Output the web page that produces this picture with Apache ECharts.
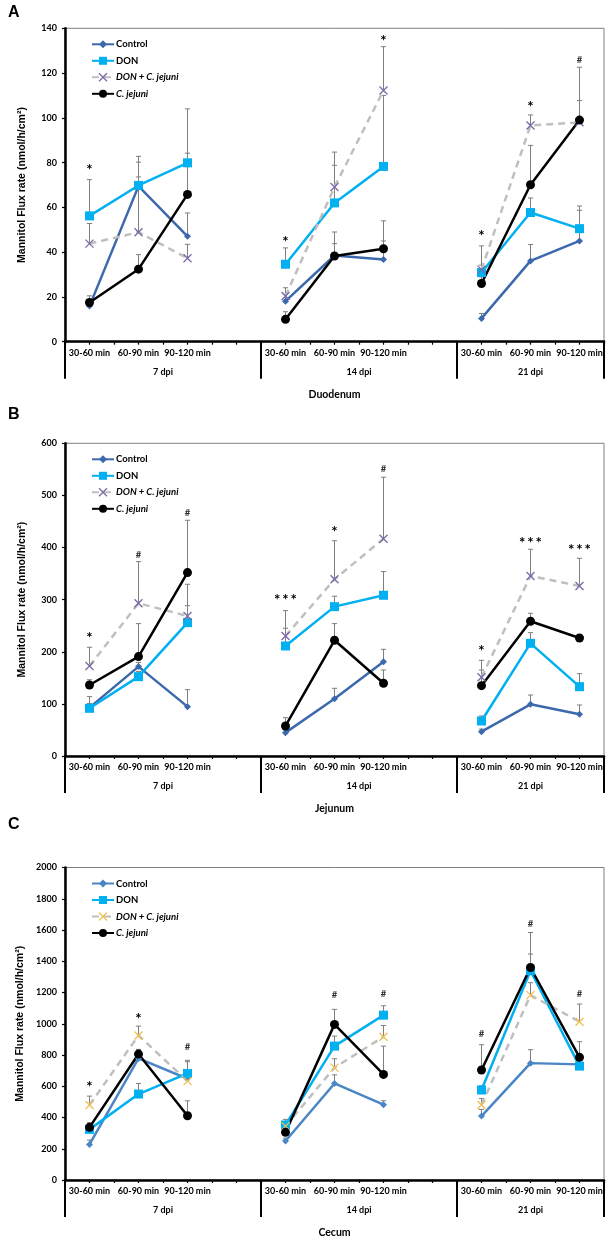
<!DOCTYPE html>
<html><head><meta charset="utf-8">
<script src="https://cdn.jsdelivr.net/npm/echarts@6/dist/echarts.min.js"></script>
<style>html,body{margin:0;padding:0;background:#fff}#c{width:611px;height:1239px}</style>
</head><body><div id="c"></div>
<script>
// ---------- shared labels ----------
const times = ['30-60 min', '60-90 min', '90-120 min'];
const groups = ['7 dpi', '14 dpi', '21 dpi'];
const groupSlots = [4, 4, 3];
const seriesNames = ['Control', 'DON', 'DON + C. jejuni', 'C. jejuni'];
const regions = ['Duodenum', 'Jejunum', 'Cecum'];
const panelLetters = ['A', 'B', 'C'];
const yMaxes = [140, 600, 2000];
const yIntervals = [20, 100, 200];
const yTitle = 'Mannitol Flux rate (nmol/h/cm\u00b2)';

// ---------- Panel A : Duodenum (9 values: 7 dpi x3, 14 dpi x3, 21 dpi x3) ----------
const ctrlA    = [15.9, 69.5, 47.1, 18.1, 38.5, 36.7, 10.4, 36.1, 45.0];
const ctrlErrA = [1.5, 10.7, 10.4, 3.0, 5.3, 8.3, 2.2, 7.3, 13.7];
const donA     = [56.2, 69.8, 79.9, 34.6, 62.0, 78.3, 30.9, 57.7, 50.5];
const donErrA  = [16.2, 13.0, 24.1, 7.3, 16.8, 31.7, 3.3, 6.5, 10.1];
const donCjA   = [43.8, 48.9, 37.3, 20.4, 69.1, 112.2, 32.2, 96.6, 98.0];
const donCjErrA= [9.0, 24.7, 6.2, 3.7, 15.6, 19.6, 10.6, 4.7, 9.7];
const cjA      = [17.5, 32.4, 65.8, 10.0, 38.3, 41.5, 26.0, 70.1, 99.0];
const cjErrA   = [3.0, 6.5, 18.4, 3.4, 10.7, 12.5, 3.0, 17.6, 23.6];
const sigA     = ['*', '', '', '*', '', '*', '*', '*', '#'];
const sigYA    = [78, null, null, 46, null, 136, 48.7, 106.5, 125.9];

// ---------- Panel B : Jejunum ----------
const ctrlB    = [92.8, 171.5, 94.7, 44.8, 110, 181, 46.7, 99.2, 80];
const ctrlErrB = [8, 8, 32.6, 5, 19.9, 23.7, 5, 17.8, 17.9];
const donB     = [91.5, 152.3, 255.9, 211.1, 286.6, 308.4, 67.2, 216.2, 133];
const donErrB  = [22.4, 10, 32.6, 34, 20, 45.4, 9.6, 20.5, 25];
const donCjB   = [172.7, 293, 268.7, 230.3, 339, 417, 151, 345.5, 326.3];
const donCjErrB= [35.9, 80, 60.8, 48.7, 74, 117.9, 32.6, 51.2, 53.1];
const cjB      = [136.3, 190.7, 351.9, 57.6, 222, 139.5, 135, 258.5, 226.5];
const cjErrB   = [10, 63.3, 100.4, 16, 32, 25.5, 30, 15.3, 5];
const sigB     = ['*', '#', '#', '***', '*', '#', '*', '***', '***'];
const sigYB    = [232, 385.8, 465.8, 306, 437, 550, 208.6, 415, 401.8];

// ---------- Panel C : Cecum ----------
const ctrlC    = [228, 778, 648, 250, 618, 482, 409, 748, 740];
const ctrlErrC = [28, 43, 15, 18, 55, 25, 43, 86, 10];
const donC     = [324, 550, 682, 352, 857, 1055, 576, 1339, 729];
const donErrC  = [15, 68, 84, 36, 64, 60, 27, 107, 15];
const donCjC   = [480, 925, 633, 345, 719, 917, 480, 1183, 1013];
const donCjErrC= [57, 60, 124, 20, 57, 72, 42, 80, 113];
const cjC      = [337, 806, 411, 305, 996, 676, 704, 1360, 785];
const cjErrC   = [30, 30, 96, 20, 96, 181, 162, 224, 100];
const sigC     = ['*', '*', '#', '', '#', '#', '#', '#', '#'];
const sigYC    = [615, 1055, 849, null, 1183, 1190, 938, 1642, 1194];

// ---------- build ----------
const panels = [
  {means: [ctrlA, donA, donCjA, cjA], errs: [ctrlErrA, donErrA, donCjErrA, cjErrA], sig: sigA, sigY: sigYA},
  {means: [ctrlB, donB, donCjB, cjB], errs: [ctrlErrB, donErrB, donCjErrB, cjErrB], sig: sigB, sigY: sigYB},
  {means: [ctrlC, donC, donCjC, cjC], errs: [ctrlErrC, donErrC, donCjErrC, cjErrC], sig: sigC, sigY: sigYC}
];

// slot index of each of the 9 measurements, categories with empty spacer slots
const slotOf = [];
const categories = [];
const boundaries = [0];
const centers = [];
let s = 0;
groups.forEach((g, gi) => {
  centers.push(s + groupSlots[gi] / 2);
  for (let k = 0; k < groupSlots[gi]; k++) {
    if (k < times.length) { slotOf.push(s + k); categories.push(times[k]); }
    else categories.push('');
  }
  s += groupSlots[gi];
  boundaries.push(s);
});
const nSlots = s;
function expand(arr) {
  const out = new Array(nSlots).fill(null);
  arr.forEach((v, i) => { out[slotOf[i]] = v; });
  return out;
}

const tops = [28.3, 443.3, 867.5];
const heights = [313.4, 312.7, 312.5];
const FONT = 'Lato, "Open Sans", sans-serif';
const ARIAL = '"Liberation Sans", Arial, sans-serif';
const ctrlColors = ['#3C68AC', '#3C68AC', '#4A86C6'];
const xColors = ['#7B68A8', '#7B68A8', '#F0C050'];
const XPATH = 'path://M0,0L10,10M10,0L0,10';

const option = {
  backgroundColor: '#fff',
  animation: false,
  grid: [], xAxis: [], yAxis: [], series: [], legend: [], graphic: []
};

function errRender(params, api) {
  const x = api.value(0), m = api.value(1), e = api.value(2);
  const p0 = api.coord([x, m]);
  const p1 = api.coord([x, m + e]);
  const hw = 2.6;
  const st = {stroke: '#7F7F7F', lineWidth: 1};
  return {type: 'group', children: [
    {type: 'line', shape: {x1: p0[0], y1: p0[1], x2: p1[0], y2: p1[1]}, style: st},
    {type: 'line', shape: {x1: p1[0] - hw, y1: p1[1], x2: p1[0] + hw, y2: p1[1]}, style: st}
  ]};
}

panels.forEach((P, p) => {
  option.grid.push({left: 65, width: 539, top: tops[p], height: heights[p], show: true,
    borderColor: '#7F7F7F', borderWidth: 1});
  // categories (time windows)
  option.xAxis.push({type: 'category', gridIndex: p, position: 'bottom', data: categories, boundaryGap: true,
    axisLine: {show: false, onZero: false}, axisTick: {show: false},
    axisLabel: {interval: 0, margin: 6.5, fontSize: 9, fontWeight: 'bold', fontFamily: FONT, color: '#000'}});
  // tick axis
  option.xAxis.push({type: 'value', gridIndex: p, position: 'bottom', min: 0, max: nSlots, interval: 0.5,
    axisLine: {show: true, onZero: false, lineStyle: {color: '#000', width: 2.5}},
    axisTick: {show: true, length: 3, lineStyle: {color: '#000', width: 1.2}},
    axisLabel: {show: false}, splitLine: {show: false}});
  // group axis
  option.xAxis.push({type: 'value', gridIndex: p, position: 'bottom', min: 0, max: nSlots,
    axisLine: {show: false, onZero: false},
    axisTick: {show: true, customValues: boundaries, length: 37, lineStyle: {color: '#000', width: 2}},
    axisLabel: {show: true, customValues: centers, margin: 26, fontSize: 9, fontWeight: 'bold', fontFamily: FONT, color: '#000',
      formatter: v => { const i = centers.indexOf(v); return i >= 0 ? groups[i] : ''; }},
    splitLine: {show: false},
    name: regions[p], nameLocation: 'middle', nameGap: 47,
    nameTextStyle: {fontSize: 10.5, fontWeight: 'bold', fontFamily: FONT, color: '#000'}});
  option.yAxis.push({type: 'value', gridIndex: p, min: 0, max: yMaxes[p], interval: yIntervals[p],
    axisLine: {show: true, lineStyle: {color: '#000', width: 2.5}},
    axisTick: {show: true, length: 3, lineStyle: {color: '#000', width: 1.2}},
    axisLabel: {margin: 8, fontSize: 9, fontWeight: 'bold', fontFamily: FONT, color: '#000',
      formatter: v => String(v)},
    splitLine: {show: false},
    name: yTitle, nameLocation: 'middle', nameGap: 37, nameRotate: 90,
    nameTextStyle: {fontSize: 10.5, fontWeight: 'bold', fontFamily: ARIAL, color: '#000'}});

  const xi = 3 * p;
  const styles = [
    {symbol: 'diamond', symbolSize: 7, lineStyle: {color: ctrlColors[p], width: 2.5}, itemStyle: {color: ctrlColors[p]}},
    {symbol: 'rect', symbolSize: 9, lineStyle: {color: '#00B0F0', width: 2.5}, itemStyle: {color: '#00B0F0'}},
    {symbol: XPATH, symbolSize: 8, lineStyle: {color: '#BFBFBF', width: 2.5, type: [7, 5]},
      itemStyle: {color: 'rgba(0,0,0,0)', borderColor: xColors[p], borderWidth: 1.3}},
    {symbol: 'circle', symbolSize: 9, lineStyle: {color: '#000', width: 2.5}, itemStyle: {color: '#000'}}
  ];
  // error bars
  P.means.forEach((arr, k) => {
    option.series.push({type: 'custom', xAxisIndex: xi, yAxisIndex: p, z: 1, silent: true,
      renderItem: errRender, encode: {x: 0, y: 1},
      data: arr.map((v, i) => [slotOf[i], v, P.errs[k][i]])});
  });
  // lines
  P.means.forEach((arr, k) => {
    option.series.push(Object.assign({type: 'line', name: seriesNames[k], xAxisIndex: xi, yAxisIndex: p, z: 3,
      data: expand(arr), connectNulls: false, showAllSymbol: true}, styles[k]));
  });
  // significance marks
  const sigData = [], sigText = [];
  P.sig.forEach((t, i) => { if (t) { sigData.push([slotOf[i], P.sigY[i]]); sigText.push(t); } });
  option.series.push({type: 'custom', xAxisIndex: xi, yAxisIndex: p, z: 5, silent: true, encode: {x: 0, y: 1},
    data: sigData,
    renderItem: (params, api) => {
      const pt = api.coord([api.value(0), api.value(1)]);
      const t = sigText[params.dataIndex];
      const star = t.indexOf('*') >= 0;
      return {type: 'text', x: pt[0], y: pt[1] + (star ? 3.5 : 0),
        style: {text: star ? t.split('').join('\u2009') : t, align: 'center', verticalAlign: 'middle', fontFamily: FONT, fontWeight: 'bold',
          fontSize: star ? 15 : 9.5, fill: star ? '#000' : '#333'}};
    }});
  // legend
  const legData = seriesNames.map((n, k) => {
    const d = {name: n};
    if (k >= 2) d.textStyle = {fontStyle: 'italic'};
    if (k === 0) { d.itemStyle = {color: ctrlColors[p]}; d.lineStyle = {color: ctrlColors[p]}; }
    if (k === 2) { d.itemStyle = {color: 'rgba(0,0,0,0)', borderColor: xColors[p], borderWidth: 1.3}; }
    return d;
  });
  option.legend.push({orient: 'vertical', left: 86, top: tops[p] + 6, itemWidth: 22, itemHeight: 10, itemGap: 6.5,
    selectedMode: false,
    textStyle: {fontSize: 9.5, fontWeight: 'bold', fontFamily: FONT, color: '#000', padding: [0, 0, 0, -3]},
    data: legData});
  option.graphic.push({type: 'text', left: 8, top: [5, 407, 817][p],
    style: {text: panelLetters[p], fontSize: 16, fontWeight: 'bold', fontFamily: ARIAL, fill: '#000'}});
});

const chart = echarts.init(document.getElementById('c'), null, {renderer: 'canvas'});
chart.setOption(option);
</script></body></html>
